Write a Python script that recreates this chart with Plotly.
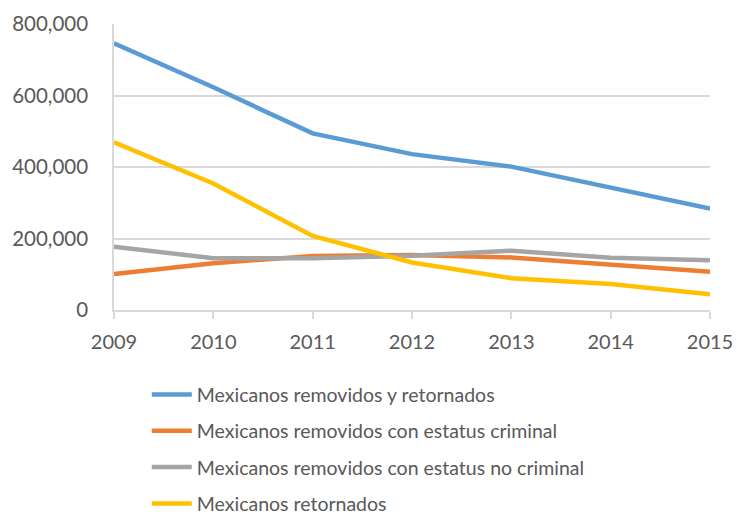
import plotly.graph_objects as go

years = [2009, 2010, 2011, 2012, 2013, 2014, 2015]
removidos_retornados = [746000, 623000, 494000, 436000, 401000, 342000, 284000]
removidos_criminal = [101000, 131000, 151000, 154000, 147000, 126000, 107000]
removidos_no_criminal = [177000, 145000, 145000, 152000, 166000, 146000, 139000]
retornados = [469000, 354000, 207000, 133000, 89000, 73000, 44000]

series = [
    ("Mexicanos removidos y retornados", removidos_retornados, "#5B9BD5"),
    ("Mexicanos removidos con estatus criminal", removidos_criminal, "#ED7D31"),
    ("Mexicanos removidos con estatus no criminal", removidos_no_criminal, "#A5A5A5"),
    ("Mexicanos retornados", retornados, "#FFC000"),
]

fig = go.Figure()
for i, (name, vals, color) in enumerate(series):
    fig.add_trace(go.Scatter(
        x=years, y=vals, name=name, mode="lines",
        line=dict(color=color, width=4.5),
        legendgroup=f"g{i}",
    ))

font = "Lato, 'Open Sans', sans-serif"
fig.update_layout(
    width=737, height=515,
    margin=dict(l=114, r=27, t=24, b=205, autoexpand=False),
    plot_bgcolor="white", paper_bgcolor="white",
    font=dict(family=font, size=19.5, color="#595959"),
    showlegend=True,
    legend=dict(
        orientation="v", x=0.055, y=-0.228, xanchor="left", yanchor="top",
        font=dict(family=font, size=19.5, color="#595959"),
        tracegroupgap=8, itemwidth=40,
        bgcolor="rgba(0,0,0,0)",
    ),
    xaxis=dict(
        range=[2009, 2015], tickmode="array", tickvals=years,
        ticktext=[str(y) for y in years],
        showgrid=False, showline=True, linecolor="#D9D9D9", linewidth=1.5,
        ticks="outside", ticklen=7, tickcolor="#D9D9D9", tickwidth=1.5,
        ticklabelstandoff=6,
        tickfont=dict(size=20, color="#595959"), zeroline=False,
    ),
    yaxis=dict(
        range=[0, 800000], tickmode="array",
        tickvals=[0, 200000, 400000, 600000, 800000],
        ticktext=["0", "200,000", "400,000", "600,000", "800,000"],
        showgrid=True, gridcolor="#D9D9D9", gridwidth=1.5,
        showline=True, linecolor="#D9D9D9", linewidth=1.5,
        ticks="", ticklabelstandoff=20,
        tickfont=dict(size=20.5, color="#595959"), zeroline=False,
    ),
)

fig.write_html("out.html")
